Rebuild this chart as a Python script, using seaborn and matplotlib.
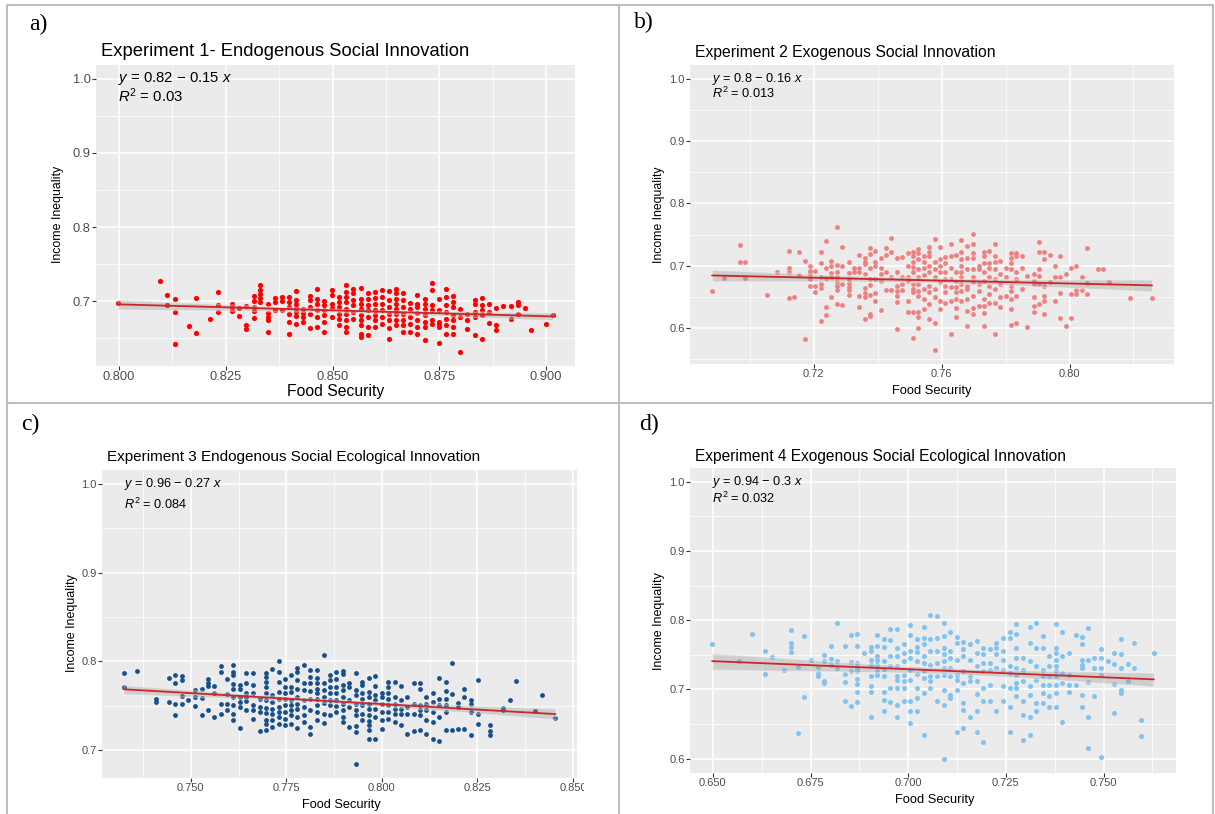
import numpy as np
import matplotlib
matplotlib.use("Agg")
import matplotlib.pyplot as plt
import seaborn as sns
from matplotlib.lines import Line2D
from matplotlib.patches import Rectangle
from matplotlib.collections import PolyCollection
from matplotlib.ticker import FixedLocator

# ---------------- data ----------------
# Panel a: Experiment 1 - Endogenous Social Innovation
a_cols = [0.7997, 0.8097, 0.8113, 0.8131, 0.8164, 0.8181, 0.8214, 0.8231, 0.8264, 0.8281,
          0.8298, 0.8315, 0.8331, 0.8348, 0.8365, 0.8381, 0.8399, 0.8415, 0.8431, 0.8448,
          0.8464, 0.8481, 0.8499, 0.8516, 0.8532, 0.8549, 0.8566, 0.8582, 0.8599, 0.8616,
          0.8632, 0.8649, 0.8666, 0.8682, 0.8699, 0.8716, 0.8732, 0.8749, 0.8766, 0.8782,
          0.8799, 0.8816, 0.8833, 0.8850, 0.8867, 0.8884, 0.8900, 0.8917, 0.8935, 0.8951,
          0.8966, 0.9000, 0.9017]
a_vals = [[0.6982], [0.7270], [0.7090, 0.6955], [0.7031, 0.6851, 0.6423], [0.6662],
          [0.7045, 0.6577], [0.6766], [0.7118, 0.6955, 0.6851], [0.6964, 0.6920, 0.6874],
          [0.6910, 0.6797], [0.6941, 0.6685, 0.6631], [0.7072, 0.7005, 0.6928, 0.6874, 0.6770],
          [0.7212, 0.7149, 0.7095, 0.7041, 0.6987], [0.6959, 0.6842, 0.6788, 0.6743, 0.6586],
          [0.7045, 0.6991, 0.6887], [0.7063, 0.7005, 0.6887],
          [0.7058, 0.6991, 0.6923, 0.6833, 0.6721, 0.6554],
          [0.7135, 0.7014, 0.6968, 0.6914, 0.6856, 0.6797, 0.6698],
          [0.6900, 0.6842, 0.6788, 0.6721],
          [0.7076, 0.7014, 0.6923, 0.6833, 0.6640],
          [0.7158, 0.7036, 0.6968, 0.6887, 0.6788, 0.6653],
          [0.7000, 0.6946, 0.6878, 0.6811, 0.6721, 0.6586],
          [0.7149, 0.7081, 0.6959, 0.6914, 0.6788],
          [0.7058, 0.6991, 0.6923, 0.6833, 0.6766, 0.6676],
          [0.7212, 0.7126, 0.7058, 0.6991, 0.6900, 0.6833, 0.6743, 0.6653, 0.6586],
          [0.7171, 0.7104, 0.7014, 0.6946, 0.6856, 0.6766],
          [0.7180, 0.7036, 0.6968, 0.6900, 0.6811, 0.6743, 0.6676, 0.6563, 0.6518],
          [0.7104, 0.7036, 0.6946, 0.6878, 0.6788, 0.6653, 0.6541],
          [0.7126, 0.7050, 0.6968, 0.6878, 0.6811, 0.6743, 0.6653],
          [0.7149, 0.7058, 0.6968, 0.6878, 0.6788, 0.6698],
          [0.7135, 0.7014, 0.6923, 0.6833, 0.6743, 0.6644, 0.6486],
          [0.7158, 0.7104, 0.7036, 0.6968, 0.6900, 0.6833, 0.6743, 0.6676],
          [0.7104, 0.7014, 0.6923, 0.6833, 0.6743, 0.6676, 0.6586],
          [0.6977, 0.6900, 0.6788, 0.6698, 0.6590],
          [0.7090, 0.6968, 0.6923, 0.6842, 0.6743, 0.6653, 0.6563],
          [0.7036, 0.6968, 0.6900, 0.6811, 0.6721, 0.6653, 0.6473],
          [0.7239, 0.7149, 0.6946, 0.6878, 0.6743, 0.6698],
          [0.7027, 0.6878, 0.6721, 0.6698, 0.6653, 0.6437],
          [0.7171, 0.7058, 0.6946, 0.6856, 0.6766, 0.6676, 0.6554],
          [0.7067, 0.6991, 0.6923, 0.6811, 0.6743, 0.6653, 0.6563],
          [0.6900, 0.6788, 0.6311], [0.6833, 0.6743, 0.6631],
          [0.7014, 0.6959, 0.6856, 0.6788, 0.6550],
          [0.7050, 0.6946, 0.6878, 0.6811, 0.6486],
          [0.6959, 0.6856, 0.6707], [0.6914, 0.6676, 0.6608], [0.6932],
          [0.6932, 0.6766], [0.6991, 0.6946, 0.6833], [0.6914], [0.6608], [0.6698], [0.6811]]

# Panel b: Experiment 2 Exogenous Social Innovation
b_cols = [0.6882, 0.6920, 0.6969, 0.6985, 0.7053, 0.7086, 0.7122, 0.7139, 0.7155, 0.7172,
          0.7189, 0.7205, 0.7222, 0.7239, 0.7255, 0.7273, 0.7290, 0.7309, 0.7325, 0.7342,
          0.7359, 0.7375, 0.7392, 0.7410, 0.7426, 0.7442, 0.7459, 0.7475, 0.7494, 0.7511,
          0.7527, 0.7546, 0.7561, 0.7578, 0.7594, 0.7611, 0.7628, 0.7645, 0.7662, 0.7681,
          0.7699, 0.7716, 0.7733, 0.7749, 0.7766, 0.7783, 0.7800, 0.7817, 0.7833, 0.7851,
          0.7867, 0.7888, 0.7904, 0.7921, 0.7938, 0.7955, 0.7971, 0.7988, 0.8005, 0.8021,
          0.8038, 0.8055, 0.8088, 0.8106, 0.8122, 0.8190, 0.8258]
b_vals = [[0.6594], [0.6808], [0.7333, 0.7055], [0.7066, 0.6808], [0.6525], [0.6905],
          [0.7242, 0.6959, 0.6905, 0.6482], [0.6498], [0.7225, 0.6851], [0.7076, 0.5823],
          [0.6990, 0.6920, 0.6867, 0.6797, 0.6681], [0.6920, 0.6681, 0.6584],
          [0.7225, 0.7038, 0.6829, 0.6701, 0.6637, 0.6117],
          [0.7400, 0.6959, 0.6808, 0.6348, 0.6214],
          [0.7076, 0.7002, 0.6884, 0.6829, 0.6498],
          [0.7617, 0.7013, 0.6905, 0.6814, 0.6734, 0.6670, 0.6605, 0.6386],
          [0.7295, 0.7002, 0.6712, 0.6369],
          [0.7066, 0.6884, 0.6797, 0.6723, 0.6653, 0.6605, 0.6530],
          [0.6959, 0.6894],
          [0.7172, 0.6959, 0.6894, 0.6520, 0.6333],
          [0.7119, 0.7066, 0.7023, 0.6862, 0.6637, 0.6557, 0.6503, 0.6144],
          [0.7279, 0.7188, 0.6964, 0.6787, 0.6691, 0.6530, 0.6225, 0.6198],
          [0.7242, 0.7066, 0.7002, 0.6797, 0.6557, 0.6439],
          [0.7130, 0.6959, 0.6867, 0.6760, 0.6294],
          [0.7279, 0.7172, 0.6894, 0.6605],
          [0.7451, 0.7220, 0.6814, 0.6605],
          [0.7130, 0.6894, 0.6681, 0.6600, 0.6520, 0.6423, 0.5995],
          [0.7141, 0.6814, 0.6707, 0.6616],
          [0.7209, 0.6996, 0.6814, 0.6760, 0.6439, 0.6268],
          [0.7220, 0.7156, 0.7060, 0.6980, 0.6894, 0.6707, 0.6627, 0.6573, 0.6262, 0.5850],
          [0.7274, 0.7209, 0.7102, 0.6943, 0.6814, 0.6707, 0.6600, 0.6520, 0.6262, 0.6182, 0.6010],
          [0.7151, 0.7060, 0.6964, 0.6857, 0.6627, 0.6466, 0.6305],
          [0.7295, 0.7220, 0.7151, 0.6996, 0.6894, 0.6681, 0.6573, 0.6386, 0.6144],
          [0.7429, 0.7060, 0.6943, 0.6814, 0.6627, 0.6493, 0.6080, 0.5645],
          [0.7295, 0.7102, 0.7002, 0.6894, 0.6734, 0.6439, 0.6305],
          [0.7141, 0.7050, 0.6894, 0.6787, 0.6681, 0.6573, 0.6412],
          [0.7349, 0.7156, 0.6964, 0.6787, 0.6653, 0.6439, 0.5904],
          [0.7177, 0.6894, 0.6760, 0.6653, 0.6573, 0.6466, 0.6332, 0.6187],
          [0.7418, 0.7220, 0.7102, 0.7002, 0.6894, 0.6814, 0.6707, 0.6600, 0.6439],
          [0.7322, 0.7130, 0.6943, 0.6681, 0.6627, 0.6466, 0.6278, 0.6037],
          [0.7515, 0.7349, 0.7209, 0.7130, 0.6943, 0.6814, 0.6734, 0.6520, 0.6332, 0.6225],
          [0.6996, 0.6943, 0.6707, 0.6600, 0.6359],
          [0.7220, 0.7156, 0.7050, 0.6894, 0.6760, 0.6466, 0.6359, 0.6252, 0.6037],
          [0.7242, 0.7050, 0.6964, 0.6814, 0.6681, 0.6546, 0.6412],
          [0.7349, 0.7161, 0.7060, 0.6943, 0.6787, 0.6627, 0.6412, 0.5904],
          [0.7070, 0.6867, 0.6707, 0.6493, 0.6348],
          [0.6964, 0.6814, 0.6520],
          [0.7209, 0.7130, 0.7050, 0.6943, 0.6681, 0.6600, 0.6466, 0.6305, 0.6048],
          [0.7209, 0.7151, 0.6894, 0.6787, 0.6520, 0.6091],
          [0.7161, 0.6964, 0.6627], [0.6841, 0.6026],
          [0.6867, 0.6760, 0.6707, 0.6493, 0.6359, 0.6268],
          [0.7386, 0.7225, 0.6943, 0.6841, 0.6707, 0.6386],
          [0.7225, 0.7102, 0.6681, 0.6520, 0.6439, 0.6225],
          [0.7177, 0.6744], [0.7002, 0.6814, 0.6439], [0.7151, 0.6814, 0.6562, 0.6171],
          [0.6867, 0.6037], [0.6964, 0.6541, 0.6171], [0.7002, 0.6616, 0.6541],
          [0.6814, 0.6616], [0.7279, 0.6718, 0.6541], [0.6948], [0.6948], [0.6744],
          [0.6477], [0.6477]]

# Panel c: Experiment 3 Endogenous Social Ecological Innovation
c_cols = [0.7324, 0.7359, 0.7408, 0.7443, 0.7459, 0.7478, 0.7493, 0.7510, 0.7528, 0.7544,
          0.7560, 0.7579, 0.7594, 0.7610, 0.7629, 0.7645, 0.7663, 0.7680, 0.7696, 0.7713,
          0.7731, 0.7747, 0.7763, 0.7779, 0.7795, 0.7812, 0.7830, 0.7848, 0.7865, 0.7881,
          0.7899, 0.7914, 0.7931, 0.7948, 0.7965, 0.7981, 0.7999, 0.8016, 0.8033, 0.8049,
          0.8066, 0.8084, 0.8100, 0.8116, 0.8133, 0.8149, 0.8167, 0.8184, 0.8200, 0.8216,
          0.8234, 0.8251, 0.8283, 0.8318, 0.8334, 0.8350, 0.8401, 0.8419, 0.8454]
c_vals = [[0.7863, 0.7711], [0.7892], [0.7579, 0.7541], [0.7806, 0.7541],
          [0.7844, 0.7749, 0.7515, 0.7398], [0.7833, 0.7787, 0.7606, 0.7515], [0.7560],
          [0.7674, 0.7598, 0.7496], [0.7692, 0.7587, 0.7398], [0.7795, 0.7757, 0.7719, 0.7447],
          [0.7719, 0.7636, 0.7371], [0.7946, 0.7880, 0.7522, 0.7409],
          [0.7795, 0.7628, 0.7522, 0.7454],
          [0.7957, 0.7880, 0.7844, 0.7742, 0.7681, 0.7598, 0.7503, 0.7409, 0.7333],
          [0.7730, 0.7681, 0.7598, 0.7541, 0.7484, 0.7249],
          [0.7870, 0.7749, 0.7643, 0.7598, 0.7552, 0.7447],
          [0.7870, 0.7730, 0.7643, 0.7503, 0.7454, 0.7352],
          [0.7579, 0.7484, 0.7428, 0.7211],
          [0.7870, 0.7825, 0.7768, 0.7711, 0.7643, 0.7560, 0.7477, 0.7416, 0.7341, 0.7288, 0.7219],
          [0.7908, 0.7617, 0.7541, 0.7466, 0.7401, 0.7341, 0.7257],
          [0.8006, 0.7880, 0.7768, 0.7655, 0.7579, 0.7484, 0.7428, 0.7371, 0.7288],
          [0.7795, 0.7711, 0.7643, 0.7568, 0.7503, 0.7428, 0.7352, 0.7276],
          [0.7844, 0.7711, 0.7655, 0.7560, 0.7503, 0.7447, 0.7390, 0.7288],
          [0.7919, 0.7880, 0.7787, 0.7692, 0.7598, 0.7522, 0.7466, 0.7371, 0.7249],
          [0.7957, 0.7749, 0.7674, 0.7560, 0.7484, 0.7390, 0.7314],
          [0.7899, 0.7825, 0.7749, 0.7666, 0.7568, 0.7447, 0.7257, 0.7181],
          [0.7899, 0.7806, 0.7749, 0.7692, 0.7636, 0.7579, 0.7503, 0.7428, 0.7333],
          [0.8070, 0.7749, 0.7674, 0.7598, 0.7530, 0.7409, 0.7303],
          [0.7844, 0.7787, 0.7711, 0.7636, 0.7560, 0.7503, 0.7390],
          [0.7880, 0.7795, 0.7711, 0.7636, 0.7560, 0.7492, 0.7428],
          [0.7892, 0.7855, 0.7730, 0.7674, 0.7598, 0.7522, 0.7447, 0.7371, 0.7314],
          [0.7749, 0.7704, 0.7560, 0.7484, 0.7257],
          [0.7863, 0.7674, 0.7617, 0.7522, 0.7447, 0.7390, 0.7265, 0.7201, 0.6840],
          [0.7768, 0.7730, 0.7636, 0.7579, 0.7503, 0.7409, 0.7333],
          [0.7806, 0.7655, 0.7598, 0.7522, 0.7466, 0.7390, 0.7326, 0.7276, 0.7227, 0.7125],
          [0.7833, 0.7719, 0.7617, 0.7560, 0.7466, 0.7371, 0.7125],
          [0.7636, 0.7598, 0.7522, 0.7428, 0.7333, 0.7231],
          [0.7768, 0.7711, 0.7636, 0.7579, 0.7503, 0.7428, 0.7352],
          [0.7768, 0.7598, 0.7522, 0.7466, 0.7409, 0.7314],
          [0.7719, 0.7560, 0.7466, 0.7409, 0.7276],
          [0.7598, 0.7484, 0.7409, 0.7174],
          [0.7757, 0.7522, 0.7409, 0.7211],
          [0.7749, 0.7681, 0.7503, 0.7447, 0.7390, 0.7220],
          [0.7598, 0.7522, 0.7447, 0.7333, 0.7181],
          [0.7643, 0.7541, 0.7428, 0.7314, 0.7125],
          [0.7806, 0.7579, 0.7503, 0.7371, 0.7098],
          [0.7768, 0.7666, 0.7579, 0.7503, 0.7428, 0.7220],
          [0.7976, 0.7625, 0.7227], [0.7526, 0.7488, 0.7238], [0.7692, 0.7598, 0.7238],
          [0.7560, 0.7522, 0.7428, 0.7163], [0.7787, 0.7409, 0.7295],
          [0.7284, 0.7208, 0.7170], [0.7472, 0.7446], [0.7560], [0.7775], [0.7435],
          [0.7624], [0.7359]]

# Panel d: Experiment 4 Exogenous Social Ecological Innovation
d_cols = [0.6498, 0.6566, 0.6601, 0.6633, 0.6651, 0.6683, 0.6701, 0.6718, 0.6734, 0.6751,
          0.6768, 0.6785, 0.6802, 0.6819, 0.6837, 0.6854, 0.6870, 0.6888, 0.6904, 0.6921,
          0.6939, 0.6954, 0.6971, 0.6988, 0.7005, 0.7023, 0.7040, 0.7057, 0.7074, 0.7091,
          0.7107, 0.7124, 0.7141, 0.7157, 0.7175, 0.7192, 0.7209, 0.7226, 0.7242, 0.7261,
          0.7277, 0.7293, 0.7312, 0.7327, 0.7344, 0.7361, 0.7378, 0.7393, 0.7412, 0.7429,
          0.7446, 0.7461, 0.7476, 0.7494, 0.7511, 0.7526, 0.7545, 0.7563, 0.7578, 0.7597,
          0.7629]
d_vals = [[0.7655], [0.7417], [0.7806], [0.7553, 0.7218], [0.7465], [0.7281],
          [0.7864, 0.7675, 0.7616, 0.7539], [0.7320, 0.6373], [0.7776, 0.6883], [0.7431],
          [0.7320, 0.7237, 0.7189], [0.7490, 0.7407, 0.7126, 0.7087], [0.7630, 0.7446, 0.7354],
          [0.7966, 0.7417, 0.7310], [0.7630, 0.7218, 0.7107, 0.6830],
          [0.7790, 0.7397, 0.7266, 0.6757],
          [0.7806, 0.7630, 0.7383, 0.7310, 0.7262, 0.7155, 0.7077, 0.6961, 0.6820],
          [0.7529],
          [0.7616, 0.7553, 0.7431, 0.7359, 0.7189, 0.7044, 0.6956, 0.6606],
          [0.7786, 0.7626, 0.7480, 0.7431, 0.7359, 0.7262, 0.7213],
          [0.7728, 0.7606, 0.7412, 0.7290, 0.7189, 0.6961, 0.6844, 0.6694],
          [0.7879, 0.7713, 0.7480, 0.7334, 0.7020, 0.6815],
          [0.7869, 0.7602, 0.7480, 0.7334, 0.7189, 0.7140, 0.7020, 0.6777, 0.6606],
          [0.7650, 0.7529, 0.7407, 0.7213, 0.7116, 0.7020, 0.6825],
          [0.7932, 0.7781, 0.7553, 0.7456, 0.7286, 0.7140, 0.6825, 0.6680, 0.6509],
          [0.7728, 0.7606, 0.7534, 0.7412, 0.7218, 0.7020, 0.6878, 0.6694],
          [0.7903, 0.7748, 0.7650, 0.7480, 0.7383, 0.7262, 0.7165, 0.6946, 0.6339],
          [0.8079, 0.7728, 0.7558, 0.7359, 0.7189, 0.7116, 0.7020],
          [0.8064, 0.7748, 0.7558, 0.7383, 0.7189, 0.6825],
          [0.7966, 0.7771, 0.7602, 0.7505, 0.7407, 0.7310, 0.7213, 0.6995, 0.6777, 0.5991],
          [0.7835, 0.7558, 0.7456, 0.7310, 0.7189, 0.6922, 0.6873],
          [0.7757, 0.7675, 0.7431, 0.7213, 0.7140, 0.6995, 0.6388],
          [0.7689, 0.7577, 0.7480, 0.7262, 0.7092, 0.6801, 0.6704, 0.6446],
          [0.7650, 0.7431, 0.7189, 0.7126, 0.6597],
          [0.7699, 0.7529, 0.7334, 0.7116, 0.6932, 0.6680, 0.6388],
          [0.7602, 0.7505, 0.7383, 0.7262, 0.7020, 0.6825, 0.6242],
          [0.7577, 0.7383, 0.7286, 0.7068, 0.6834],
          [0.7675, 0.7602, 0.7505, 0.7310, 0.6680],
          [0.7748, 0.7558, 0.7431, 0.7286, 0.7044, 0.6825],
          [0.7835, 0.7748, 0.7334, 0.7237, 0.7020, 0.6752, 0.6388],
          [0.7942, 0.7796, 0.7602, 0.7456, 0.7310, 0.7213, 0.7092, 0.7020, 0.6898],
          [0.7456, 0.7286, 0.7116, 0.6825, 0.6631, 0.6267],
          [0.7903, 0.7675, 0.7407, 0.7044, 0.6922, 0.6597, 0.6339],
          [0.7966, 0.7602, 0.7334, 0.7140, 0.6801, 0.6680],
          [0.7771, 0.7602, 0.7286, 0.7189, 0.7068, 0.6946, 0.6801],
          [0.7480, 0.7334, 0.7189, 0.7068, 0.6898, 0.6752],
          [0.7951, 0.7602, 0.7529, 0.7431, 0.7334, 0.7262, 0.7189, 0.7068, 0.6946, 0.6752],
          [0.7835, 0.7480, 0.7237, 0.7092, 0.6533],
          [0.7529, 0.7213, 0.7068, 0.6961], [0.7786, 0.7068],
          [0.7757, 0.7650, 0.7431, 0.7359, 0.7310, 0.6922, 0.6752],
          [0.7893, 0.7431, 0.7106, 0.6606, 0.6159], [0.7456, 0.7310, 0.6898],
          [0.7588, 0.7457, 0.7311, 0.7213, 0.6023], [0.7417],
          [0.7530, 0.7360, 0.7078, 0.6664], [0.7723, 0.7515, 0.7311, 0.6995, 0.6947],
          [0.7116, 0.7360], [0.7675, 0.7311], [0.6558, 0.6325], [0.7530]]

titles = ["Experiment 1- Endogenous Social Innovation",
          "Experiment 2 Exogenous Social Innovation",
          "Experiment 3 Endogenous Social Ecological Innovation",
          "Experiment 4 Exogenous Social Ecological Innovation"]
eq_lines = [r"$y$ = 0.82 − 0.15 $x$", r"$y$ = 0.8 − 0.16 $x$",
            r"$y$ = 0.96 − 0.27 $x$", r"$y$ = 0.94 − 0.3 $x$"]
r2_lines = [r"$R^2$ = 0.03", r"$R^2$ = 0.013", r"$R^2$ = 0.084", r"$R^2$ = 0.032"]
panel_letters = ["a)", "b)", "c)", "d)"]
x_label = "Food Security"
y_label = "Income Inequality"
label_y_pos = 1.0

a_xticks = [0.800, 0.825, 0.850, 0.875, 0.900]
a_xticklabels = ["0.800", "0.825", "0.850", "0.875", "0.900"]
a_yticks = [0.7, 0.8, 0.9, 1.0]
b_xticks = [0.72, 0.76, 0.80]
b_xticklabels = ["0.72", "0.76", "0.80"]
b_yticks = [0.6, 0.7, 0.8, 0.9, 1.0]
c_xticks = [0.750, 0.775, 0.800, 0.825, 0.850]
c_xticklabels = ["0.750", "0.775", "0.800", "0.825", "0.850"]
c_yticks = [0.7, 0.8, 0.9, 1.0]
d_xticks = [0.650, 0.675, 0.700, 0.725, 0.750]
d_xticklabels = ["0.650", "0.675", "0.700", "0.725", "0.750"]
d_yticks = [0.6, 0.7, 0.8, 0.9, 1.0]

# ---------------- style ----------------
sns.set_theme(style="darkgrid")
plt.rcParams['font.family'] = ['Liberation Sans', 'DejaVu Sans']
plt.rcParams['mathtext.fontset'] = 'custom'
plt.rcParams['mathtext.rm'] = 'Liberation Sans'
plt.rcParams['mathtext.it'] = 'Liberation Sans:italic'
plt.rcParams['axes.unicode_minus'] = False

W, H = 1215, 814
fig = plt.figure(figsize=(W / 100, H / 100), dpi=100)
fig.patch.set_facecolor('white')


def fx(px):
    return px / W


def fy(py):
    return 1 - py / H


LINE_COLOR = "#CD2626"

panels = [
    dict(cols=a_cols, vals=a_vals, color="#FF0000", s=14,
         box=(96, 65, 575, 366), xt=a_xticks, xtl=a_xticklabels, yt=a_yticks,
         title_xy=(101, 52), title_fs=13.2, eq_fs=10.7, eq_dy=17.5, tick_fs=9.3,
         xl_xy=(336, 391), xl_fs=11.3, yl_xy=(58, 214), yl_fs=8.9,
         letter_xy=(29, 24)),
    dict(cols=b_cols, vals=b_vals, color="#F08080", s=12,
         box=(690, 65, 1174, 364), xt=b_xticks, xtl=b_xticklabels, yt=b_yticks,
         title_xy=(695, 52), title_fs=11.3, eq_fs=9.2, eq_dy=15, tick_fs=8.0,
         xl_xy=(932, 391), xl_fs=9.3, yl_xy=(659, 215), yl_fs=8.8,
         letter_xy=(634, 22)),
    dict(cols=c_cols, vals=c_vals, color="#174F8A", s=12,
         box=(102, 470, 577, 778), xt=c_xticks, xtl=c_xticklabels, yt=c_yticks,
         title_xy=(107, 457), title_fs=11.0, eq_fs=9.2, eq_dy=20, tick_fs=8.0,
         xl_xy=(341, 805), xl_fs=9.2, yl_xy=(72, 623), yl_fs=9.0,
         letter_xy=(21, 424)),
    dict(cols=d_cols, vals=d_vals, color="#82C3F0", s=13,
         box=(690, 468, 1176, 773), xt=d_xticks, xtl=d_xticklabels, yt=d_yticks,
         title_xy=(695, 456), title_fs=11.2, eq_fs=9.2, eq_dy=17, tick_fs=8.0,
         xl_xy=(935, 800), xl_fs=9.3, yl_xy=(659, 621), yl_fs=9.0,
         letter_xy=(639, 424)),
]

for i, p in enumerate(panels):
    l, t, r, b = p['box']
    ax = fig.add_axes([fx(l), fy(b), fx(r) - fx(l), fy(t) - fy(b)])
    ax.set_facecolor('#EBEBEB')
    x = np.repeat(np.array(p['cols']), [len(v) for v in p['vals']])
    y = np.concatenate([np.array(v) for v in p['vals']])
    sns.regplot(x=x, y=y, ax=ax, ci=95,
                scatter_kws=dict(s=p['s'], color=p['color'], linewidths=0, alpha=1, zorder=2),
                line_kws=dict(color=LINE_COLOR, lw=1.3, zorder=3))
    # confidence band in ggplot grey
    for coll in ax.collections:
        if isinstance(coll, PolyCollection):
            coll.set_facecolor('#999999')
            coll.set_alpha(0.35)
            coll.set_zorder(2.5)
    # ggplot-like limits: data range (incl. label at y=1.0) expanded by 5 %
    xmin, xmax = x.min(), x.max()
    ylo, yhi = y.min(), label_y_pos
    px_ = 0.05 * (xmax - xmin)
    py_ = 0.05 * (yhi - ylo)
    ax.set_xlim(xmin - px_, xmax + px_)
    ax.set_ylim(ylo - py_, yhi + py_)

    ax.set_xticks(p['xt'])
    ax.set_xticklabels(p['xtl'])
    ax.set_yticks(p['yt'])
    ax.set_yticklabels([f"{v:.1f}" for v in p['yt']])
    xt = p['xt']
    dx = xt[1] - xt[0]
    ax.xaxis.set_minor_locator(FixedLocator([v + dx / 2 for v in [xt[0] - dx] + list(xt)]))
    yt = p['yt']
    ax.yaxis.set_minor_locator(FixedLocator([v + 0.05 for v in [yt[0] - 0.1] + list(yt)]))
    ax.grid(True, which='major', color='white', lw=1.1)
    ax.grid(True, which='minor', color='white', lw=0.55)
    ax.set_axisbelow(True)
    for s in ax.spines.values():
        s.set_visible(False)
    ax.tick_params(axis='both', which='major', length=2.6, width=0.8, color='#333333',
                   labelcolor='#4D4D4D', labelsize=p['tick_fs'], pad=1.3,
                   bottom=True, left=True)
    ax.tick_params(axis='both', which='minor', length=0)
    ax.set_xlabel('')
    ax.set_ylabel('')

    ax.text(xmin, label_y_pos, eq_lines[i], fontsize=p['eq_fs'], ha='left', va='center',
            color='black')
    ax.annotate(r2_lines[i], xy=(xmin, label_y_pos), xytext=(0, -p['eq_dy'] * 0.72),
                textcoords='offset points', fontsize=p['eq_fs'], ha='left', va='center',
                color='black')

    fig.text(fx(p['title_xy'][0]), fy(p['title_xy'][1]), titles[i], fontsize=p['title_fs'],
             ha='left', va='center', color='black')
    fig.text(fx(p['xl_xy'][0]), fy(p['xl_xy'][1]), x_label, fontsize=p['xl_fs'],
             ha='center', va='center', color='black')
    fig.text(fx(p['yl_xy'][0]), fy(p['yl_xy'][1]), y_label, fontsize=p['yl_fs'],
             ha='center', va='center', rotation=90, color='black')
    fig.text(fx(p['letter_xy'][0]), fy(p['letter_xy'][1]), panel_letters[i],
             fontsize=17, family=['Liberation Serif', 'DejaVu Serif'],
             ha='left', va='center', color='black')

# panel c picture is cropped on its right edge
fig.add_artist(Rectangle((fx(584), 0), fx(617) - fx(584), fy(405), transform=fig.transFigure,
                         facecolor='white', edgecolor='none', zorder=10))

# frame lines of the figure grid
BORDER = "#BDBDBD"
lw_b = 1.5
for (x0, y0, x1, y1) in [(7, 5, 1213, 5), (7, 5, 7, 814), (1213, 5, 1213, 814),
                         (619, 5, 619, 814), (7, 403, 1213, 403)]:
    fig.add_artist(Line2D([fx(x0), fx(x1)], [fy(y0), fy(y1)], color=BORDER, lw=lw_b,
                          transform=fig.transFigure, zorder=11))

fig.savefig("out.png", dpi=100)
